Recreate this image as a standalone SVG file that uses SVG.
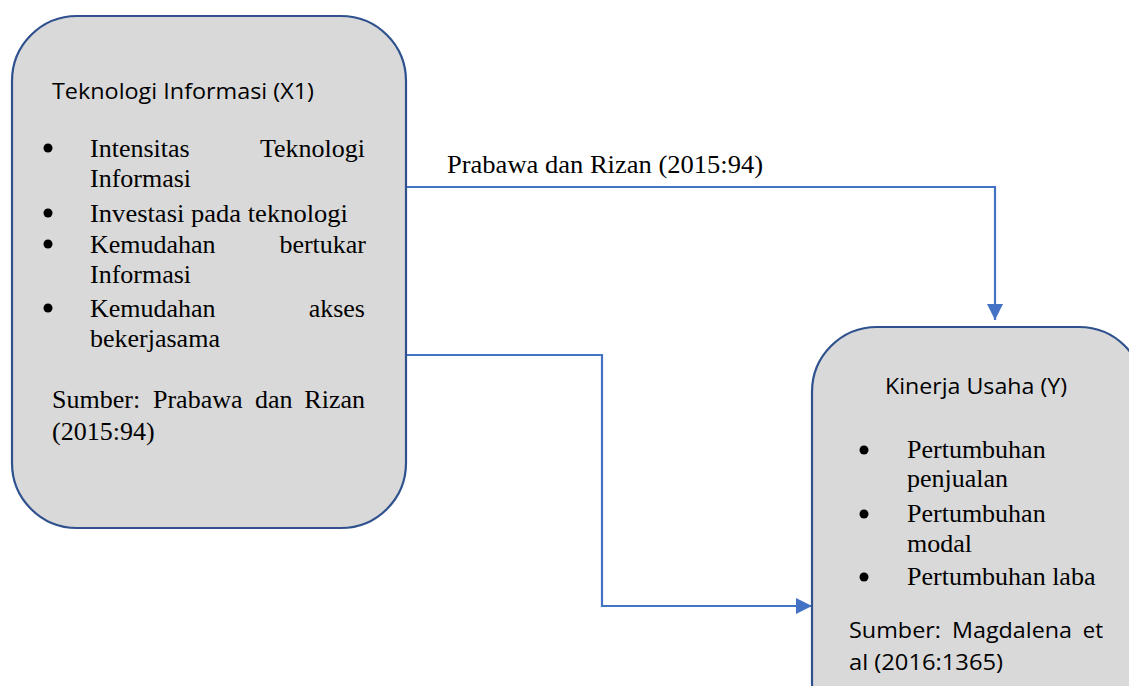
<svg xmlns="http://www.w3.org/2000/svg" width="1129" height="686" viewBox="0 0 1129 686">
<style>
.box{fill:#d9d9d9;stroke:#2f528f;stroke-width:2.2}
.conn{fill:none;stroke:#4472c4;stroke-width:2.2}
.sans{font-family:"Open Sans","Liberation Sans",sans-serif;font-size:22px;fill:#000}
.serif{font-family:"Liberation Serif","Times New Roman",serif;font-size:26px;fill:#000}
.dot{fill:#000}
</style>
<defs>
<marker id="arr" viewBox="0 0 16 16" refX="16" refY="8" markerWidth="16" markerHeight="16" markerUnits="userSpaceOnUse" orient="auto">
<path d="M0,0 L16,8 L0,16 Z" fill="#4472c4"/>
</marker>
</defs>
<rect width="1129" height="686" fill="#fff"/>
<g id="connectors">
<path class="conn" d="M406,187 H995 V320" marker-end="url(#arr)"/>
<path class="conn" d="M406,355 H602 V606 H812" marker-end="url(#arr)"/>
<text class="serif" x="447" y="173" textLength="316" lengthAdjust="spacingAndGlyphs">Prabawa dan Rizan (2015:94)</text>
</g>
<g id="node-x1">
<rect class="box" x="12" y="16" width="394" height="512" rx="65" ry="65"/>
<text class="sans" x="52" y="99" textLength="262" lengthAdjust="spacingAndGlyphs">Teknologi Informasi (X1)</text>
<circle class="dot" cx="48" cy="148" r="4.5"/>
<text class="serif" x="90" y="157">Intensitas</text>
<text class="serif" x="365" y="157" text-anchor="end">Teknologi</text>
<text class="serif" x="90" y="187">Informasi</text>
<circle class="dot" cx="48" cy="213" r="4.5"/>
<text class="serif" x="90" y="222" textLength="258" lengthAdjust="spacingAndGlyphs">Investasi pada teknologi</text>
<circle class="dot" cx="48" cy="244" r="4.5"/>
<text class="serif" x="90" y="253">Kemudahan</text>
<text class="serif" x="366" y="253" text-anchor="end">bertukar</text>
<text class="serif" x="90" y="283">Informasi</text>
<circle class="dot" cx="48" cy="308" r="4.5"/>
<text class="serif" x="90" y="317">Kemudahan</text>
<text class="serif" x="365" y="317" text-anchor="end">akses</text>
<text class="serif" x="90" y="347">bekerjasama</text>
<text class="serif" x="52" y="408">Sumber:</text>
<text class="serif" x="153" y="408">Prabawa</text>
<text class="serif" x="255" y="408">dan</text>
<text class="serif" x="365" y="408" text-anchor="end">Rizan</text>
<text class="serif" x="52" y="440">(2015:94)</text>
</g>
<g id="node-y">
<rect class="box" x="812" y="327" width="332" height="420" rx="65" ry="65"/>
<text class="sans" x="885" y="394" textLength="182" lengthAdjust="spacingAndGlyphs">Kinerja Usaha (Y)</text>
<circle class="dot" cx="864" cy="450" r="4.5"/>
<text class="serif" x="907" y="458">Pertumbuhan</text>
<text class="serif" x="907" y="487">penjualan</text>
<circle class="dot" cx="864" cy="514" r="4.5"/>
<text class="serif" x="907" y="522">Pertumbuhan</text>
<text class="serif" x="907" y="552">modal</text>
<circle class="dot" cx="864" cy="577" r="4.5"/>
<text class="serif" x="907" y="585">Pertumbuhan laba</text>
<text class="sans" x="849" y="638" textLength="92" lengthAdjust="spacingAndGlyphs">Sumber:</text>
<text class="sans" x="952" y="638" textLength="120" lengthAdjust="spacingAndGlyphs">Magdalena</text>
<text class="sans" x="1103" y="638" text-anchor="end">et</text>
<text class="sans" x="849" y="670" textLength="154" lengthAdjust="spacingAndGlyphs">al (2016:1365)</text>
</g>
</svg>
